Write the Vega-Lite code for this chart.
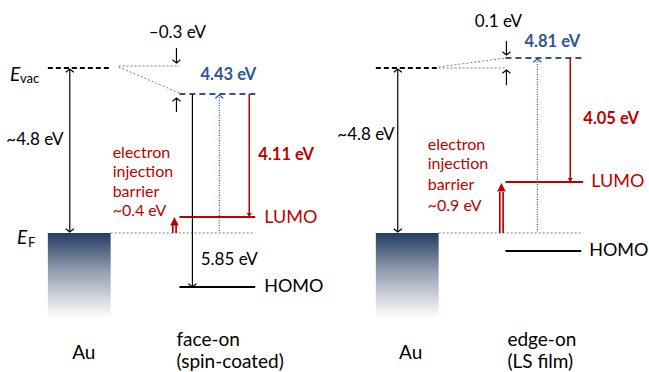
{
  "$schema": "https://vega.github.io/schema/vega-lite/v6.json",
  "width": 649, "height": 372, "padding": 0,
  "autosize": {"type": "fit", "contains": "padding"},
  "background": "white",
  "config": {"view": {"stroke": null}, "text": {"font": "Lato"}},
  "datasets": {
    "au": [{"x": 48, "x2": 111, "y": 233, "y2": 318}, {"x": 377, "x2": 440, "y": 233, "y2": 318}],
    "segs": [
      {"x": 48, "y": 68, "x2": 111, "y2": 68, "kind": "vac"},
      {"x": 377, "y": 68, "x2": 439, "y2": 68, "kind": "vac"},
      {"x": 119, "y": 66, "x2": 180, "y2": 66, "kind": "guide"},
      {"x": 119, "y": 67, "x2": 180, "y2": 93, "kind": "guide"},
      {"x": 111, "y": 233, "x2": 256, "y2": 233, "kind": "guide"},
      {"x": 440, "y": 68, "x2": 507, "y2": 68, "kind": "guide"},
      {"x": 440, "y": 67, "x2": 507, "y2": 58, "kind": "guide"},
      {"x": 440, "y": 233, "x2": 585, "y2": 233, "kind": "guide"},
      {"x": 180, "y": 94, "x2": 256, "y2": 94, "kind": "blueLevel"},
      {"x": 507, "y": 58, "x2": 585, "y2": 58, "kind": "blueLevel"},
      {"x": 180, "y": 217, "x2": 256, "y2": 217, "kind": "lumo"},
      {"x": 507, "y": 182, "x2": 585, "y2": 182, "kind": "lumo"},
      {"x": 180, "y": 287, "x2": 256, "y2": 287, "kind": "homo"},
      {"x": 507, "y": 251, "x2": 583, "y2": 251, "kind": "homo"},
      {"x": 70, "y": 69, "x2": 70, "y2": 232, "kind": "blackArrow"},
      {"x": 193, "y": 94, "x2": 193, "y2": 286, "kind": "blackArrow"},
      {"x": 177, "y": 48, "x2": 177, "y2": 63, "kind": "blackArrow"},
      {"x": 177, "y": 98, "x2": 177, "y2": 112, "kind": "blackArrow"},
      {"x": 399, "y": 69, "x2": 399, "y2": 232, "kind": "blackArrow"},
      {"x": 508, "y": 41, "x2": 508, "y2": 55, "kind": "blackArrow"},
      {"x": 508, "y": 70, "x2": 508, "y2": 85, "kind": "blackArrow"},
      {"x": 220, "y": 95, "x2": 220, "y2": 232, "kind": "blueArrow"},
      {"x": 539, "y": 59, "x2": 539, "y2": 232, "kind": "blueArrow"},
      {"x": 250, "y": 94, "x2": 250, "y2": 216, "kind": "redArrow"},
      {"x": 572, "y": 58, "x2": 572, "y2": 181, "kind": "redArrow"},
      {"x": 175, "y": 233, "x2": 175, "y2": 224, "kind": "redDouble"},
      {"x": 503, "y": 233, "x2": 503, "y2": 192, "kind": "redDouble"}
    ],
    "heads": [
      {"x": 70, "y": 69, "kind": "upBlack"},
      {"x": 177, "y": 98, "kind": "upBlack"},
      {"x": 508, "y": 70, "kind": "upBlack"},
      {"x": 399, "y": 69, "kind": "upBlack"},
      {"x": 70, "y": 232, "kind": "downBlack"},
      {"x": 399, "y": 232, "kind": "downBlack"},
      {"x": 193, "y": 287, "kind": "downBlack"},
      {"x": 177, "y": 63, "kind": "downBlack"},
      {"x": 508, "y": 55, "kind": "downBlack"},
      {"x": 220, "y": 95, "kind": "upBlue"},
      {"x": 539, "y": 59, "kind": "upBlue"},
      {"x": 250, "y": 217, "kind": "downRed"},
      {"x": 572, "y": 182, "kind": "downRed"},
      {"x": 175, "y": 217, "kind": "upRedFilled"},
      {"x": 503, "y": 183, "kind": "upRedFilled"}
    ],
    "labels": [
      {"x": 178, "y": 33, "text": "–0.3 eV", "kind": "black16"},
      {"x": 35, "y": 140, "text": "~4.8 eV", "kind": "black16"},
      {"x": 230, "y": 260, "text": "5.85 eV", "kind": "black16"},
      {"x": 500, "y": 22, "text": "0.1 eV", "kind": "black16"},
      {"x": 367, "y": 135, "text": "~4.8 eV", "kind": "black16"},
      {"x": 265, "y": 287, "text": "HOMO", "kind": "blackLevel"},
      {"x": 591, "y": 251, "text": "HOMO", "kind": "blackLevel"},
      {"x": 177, "y": 340, "text": "face-on", "kind": "blackLeft"},
      {"x": 177, "y": 362, "text": "(spin-coated)", "kind": "blackLeft"},
      {"x": 509, "y": 340, "text": "edge-on", "kind": "blackLeft"},
      {"x": 509, "y": 362, "text": "(LS film)", "kind": "blackLeft"},
      {"x": 84, "y": 353, "text": "Au", "kind": "blackCenter"},
      {"x": 412, "y": 353, "text": "Au", "kind": "blackCenter"},
      {"x": 229, "y": 75, "text": "4.43 eV", "kind": "blueBold"},
      {"x": 554, "y": 42, "text": "4.81 eV", "kind": "blueBold"},
      {"x": 287, "y": 155, "text": "4.11 eV", "kind": "redBold"},
      {"x": 613, "y": 119, "text": "4.05 eV", "kind": "redBold"},
      {"x": 265, "y": 218, "text": "LUMO", "kind": "redBig"},
      {"x": 593, "y": 182, "text": "LUMO", "kind": "redBig"},
      {"x": 113, "y": 153, "text": "electron", "kind": "red15"},
      {"x": 113, "y": 172, "text": "injection", "kind": "red15"},
      {"x": 113, "y": 192, "text": "barrier", "kind": "red15"},
      {"x": 113, "y": 211, "text": "~0.4 eV", "kind": "red15"},
      {"x": 429, "y": 145, "text": "electron", "kind": "red15"},
      {"x": 429, "y": 164, "text": "injection", "kind": "red15"},
      {"x": 429, "y": 185, "text": "barrier", "kind": "red15"},
      {"x": 429, "y": 206, "text": "~0.9 eV", "kind": "red15"},
      {"x": 10, "y": 75, "text": "E", "kind": "italicE"},
      {"x": 17, "y": 238, "text": "E", "kind": "italicE"},
      {"x": 20, "y": 79, "text": "vac", "kind": "sub"},
      {"x": 28, "y": 243, "text": "F", "kind": "sub"}
    ]
  },
  "encoding": {
    "x": {"field": "x", "type": "quantitative", "scale": {"domain": [0, 649], "nice": false, "zero": false}, "axis": null},
    "y": {"field": "y", "type": "quantitative", "scale": {"domain": [0, 372], "nice": false, "zero": false, "reverse": true}, "axis": null}
  },
  "layer": [
    {"data": {"name": "au"},
     "mark": {"type": "rect", "color": {"gradient": "linear", "x1": 0, "y1": 0, "x2": 0, "y2": 1,
        "stops": [{"offset": 0, "color": "#233c63"}, {"offset": 0.45, "color": "#939eb1"}, {"offset": 1, "color": "#ffffff"}]}},
     "encoding": {"x2": {"field": "x2"}, "y2": {"field": "y2"}}},
    {"data": {"name": "segs"}, "transform": [{"filter": "datum.kind == 'guide'"}],
     "mark": {"type": "rule", "color": "#7f7f7f", "strokeWidth": 1, "strokeDash": [2, 2]},
     "encoding": {"x2": {"field": "x2"}, "y2": {"field": "y2"}}},
    {"data": {"name": "segs"}, "transform": [{"filter": "datum.kind == 'vac'"}],
     "mark": {"type": "rule", "color": "#000000", "strokeWidth": 2, "strokeDash": [5, 3]},
     "encoding": {"x2": {"field": "x2"}, "y2": {"field": "y2"}}},
    {"data": {"name": "segs"}, "transform": [{"filter": "datum.kind == 'blueLevel'"}],
     "mark": {"type": "rule", "color": "#2f5597", "strokeWidth": 2, "strokeDash": [6, 4]},
     "encoding": {"x2": {"field": "x2"}, "y2": {"field": "y2"}}},
    {"data": {"name": "segs"}, "transform": [{"filter": "datum.kind == 'lumo'"}],
     "mark": {"type": "rule", "color": "#c00000", "strokeWidth": 2},
     "encoding": {"x2": {"field": "x2"}, "y2": {"field": "y2"}}},
    {"data": {"name": "segs"}, "transform": [{"filter": "datum.kind == 'homo'"}],
     "mark": {"type": "rule", "color": "#000000", "strokeWidth": 2},
     "encoding": {"x2": {"field": "x2"}, "y2": {"field": "y2"}}},
    {"data": {"name": "segs"}, "transform": [{"filter": "datum.kind == 'blackArrow'"}],
     "mark": {"type": "rule", "color": "#000000", "strokeWidth": 1.2},
     "encoding": {"x2": {"field": "x2"}, "y2": {"field": "y2"}}},
    {"data": {"name": "segs"}, "transform": [{"filter": "datum.kind == 'blueArrow'"}],
     "mark": {"type": "rule", "color": "#2f5597", "strokeWidth": 1.2, "strokeDash": [1, 1.5]},
     "encoding": {"x2": {"field": "x2"}, "y2": {"field": "y2"}}},
    {"data": {"name": "segs"}, "transform": [{"filter": "datum.kind == 'redArrow'"}],
     "mark": {"type": "rule", "color": "#c00000", "strokeWidth": 1.5},
     "encoding": {"x2": {"field": "x2"}, "y2": {"field": "y2"}}},
    {"data": {"name": "segs"}, "transform": [{"filter": "datum.kind == 'redDouble'"}],
     "mark": {"type": "rule", "color": "#c00000", "strokeWidth": 5},
     "encoding": {"x2": {"field": "x2"}, "y2": {"field": "y2"}}},
    {"data": {"name": "segs"}, "transform": [{"filter": "datum.kind == 'redDouble'"}],
     "mark": {"type": "rule", "color": "#ffffff", "strokeWidth": 1.6},
     "encoding": {"x2": {"field": "x2"}, "y2": {"field": "y2"}}},
    {"data": {"name": "heads"}, "transform": [{"filter": "datum.kind == 'upBlack'"}],
     "mark": {"type": "point", "shape": "M -1 0.8 L 0 0 L 1 0.8", "filled": false, "stroke": "#000000", "strokeWidth": 1.2, "size": 64, "opacity": 1}},
    {"data": {"name": "heads"}, "transform": [{"filter": "datum.kind == 'downBlack'"}],
     "mark": {"type": "point", "shape": "M -1 -0.8 L 0 0 L 1 -0.8", "filled": false, "stroke": "#000000", "strokeWidth": 1.2, "size": 64, "opacity": 1}},
    {"data": {"name": "heads"}, "transform": [{"filter": "datum.kind == 'upBlue'"}],
     "mark": {"type": "point", "shape": "M -1 0.8 L 0 0 L 1 0.8", "filled": false, "stroke": "#2f5597", "strokeWidth": 1.2, "size": 64, "opacity": 1}},
    {"data": {"name": "heads"}, "transform": [{"filter": "datum.kind == 'downRed'"}],
     "mark": {"type": "point", "shape": "M -1 -1.6 L 0 0 L 1 -1.6 Z", "filled": true, "color": "#c00000", "size": 25, "opacity": 1}},
    {"data": {"name": "heads"}, "transform": [{"filter": "datum.kind == 'upRedFilled'"}],
     "mark": {"type": "point", "shape": "M -1 2 L 0 0 L 1 2 Z", "filled": true, "color": "#c00000", "size": 72, "opacity": 1}},
    {"data": {"name": "labels"}, "transform": [{"filter": "datum.kind == 'black16'"}],
     "mark": {"type": "text", "fontSize": 17, "color": "#000000", "align": "center", "baseline": "middle"},
     "encoding": {"text": {"field": "text"}}},
    {"data": {"name": "labels"}, "transform": [{"filter": "datum.kind == 'blackLevel'"}],
     "mark": {"type": "text", "fontSize": 18, "color": "#000000", "align": "left", "baseline": "middle"},
     "encoding": {"text": {"field": "text"}}},
    {"data": {"name": "labels"}, "transform": [{"filter": "datum.kind == 'blackLeft'"}],
     "mark": {"type": "text", "fontSize": 19, "color": "#000000", "align": "left", "baseline": "middle"},
     "encoding": {"text": {"field": "text"}}},
    {"data": {"name": "labels"}, "transform": [{"filter": "datum.kind == 'blackCenter'"}],
     "mark": {"type": "text", "fontSize": 19, "color": "#000000", "align": "center", "baseline": "middle"},
     "encoding": {"text": {"field": "text"}}},
    {"data": {"name": "labels"}, "transform": [{"filter": "datum.kind == 'blueBold'"}],
     "mark": {"type": "text", "fontSize": 16.5, "fontWeight": "bold", "color": "#2f5597", "align": "center", "baseline": "middle"},
     "encoding": {"text": {"field": "text"}}},
    {"data": {"name": "labels"}, "transform": [{"filter": "datum.kind == 'redBold'"}],
     "mark": {"type": "text", "fontSize": 16.5, "fontWeight": "bold", "color": "#c00000", "align": "center", "baseline": "middle"},
     "encoding": {"text": {"field": "text"}}},
    {"data": {"name": "labels"}, "transform": [{"filter": "datum.kind == 'redBig'"}],
     "mark": {"type": "text", "fontSize": 18, "color": "#c00000", "align": "left", "baseline": "middle"},
     "encoding": {"text": {"field": "text"}}},
    {"data": {"name": "labels"}, "transform": [{"filter": "datum.kind == 'red15'"}],
     "mark": {"type": "text", "fontSize": 16, "color": "#c00000", "align": "left", "baseline": "middle"},
     "encoding": {"text": {"field": "text"}}},
    {"data": {"name": "labels"}, "transform": [{"filter": "datum.kind == 'italicE'"}],
     "mark": {"type": "text", "fontSize": 19, "fontStyle": "italic", "color": "#000000", "align": "left", "baseline": "middle"},
     "encoding": {"text": {"field": "text"}}},
    {"data": {"name": "labels"}, "transform": [{"filter": "datum.kind == 'sub'"}],
     "mark": {"type": "text", "fontSize": 13, "color": "#000000", "align": "left", "baseline": "middle"},
     "encoding": {"text": {"field": "text"}}}
  ]
}
